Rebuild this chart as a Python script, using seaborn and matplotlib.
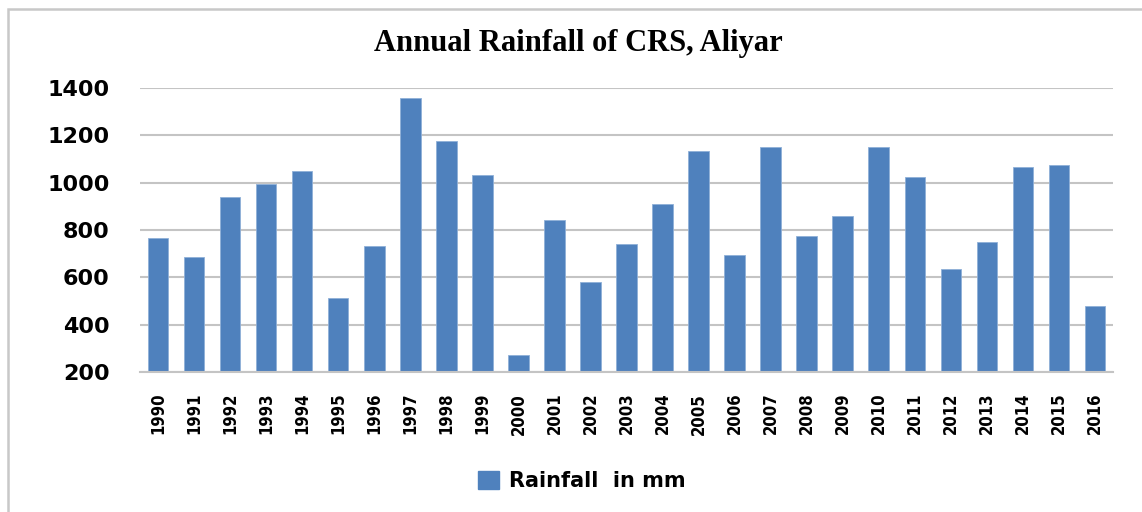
import matplotlib
matplotlib.use("Agg")
import matplotlib.pyplot as plt
from matplotlib.patches import Patch, Rectangle
import pandas as pd
import seaborn as sns

# Datos (mm por año)
years = [str(y) for y in range(1990, 2017)]
rainfall = [767, 688, 941, 995, 1048, 512, 734, 1356, 1178, 1034,
            273, 842, 582, 742, 911, 1135, 694, 1151, 773, 858,
            1151, 1025, 635, 749, 1065, 1073, 479]
y_ticks = [200, 400, 600, 800, 1000, 1200, 1400]

BAR_COLOR = "#4f81bd"
GRID_COLOR = "#c4c4c4"

sns.set_style("white")
plt.rcParams["font.family"] = ["DejaVu Sans"]
plt.rcParams["text.color"] = "black"
plt.rcParams["xtick.color"] = "black"
plt.rcParams["ytick.color"] = "black"

df = pd.DataFrame({"year": years, "rainfall": rainfall})

W, H = 1142, 512
fig = plt.figure(figsize=(W / 100, H / 100), dpi=100)
ax = fig.add_axes([140 / W, 1 - 372 / H, (1113 - 140) / W, (372 - 88) / H])

sns.barplot(data=df, x="year", y="rainfall", order=years, color=BAR_COLOR,
            width=0.57, saturation=1, edgecolor="#8fb0d8", linewidth=0.6, ax=ax)

ax.set_ylim(200, 1400)
ax.set_yticks(y_ticks)
ax.set_yticklabels([str(t) for t in y_ticks], fontsize=16, fontweight="bold")
ax.set_xlim(-0.5, len(years) - 0.5)
ax.set_xticks(range(len(years)))
ax.set_xticklabels(years, rotation=90, fontsize=12, fontweight="bold",
                   fontstretch="condensed")
ax.tick_params(axis="y", length=0, pad=22)
ax.tick_params(axis="x", length=0, pad=15)
ax.set_xlabel("")
ax.set_ylabel("")

ax.yaxis.grid(True, color=GRID_COLOR, linewidth=1.5)
ax.set_axisbelow(True)
for s in ["top", "left", "right"]:
    ax.spines[s].set_visible(False)
ax.spines["bottom"].set_color(GRID_COLOR)
ax.spines["bottom"].set_linewidth(1.5)

# Título
fig.text(578 / W, 1 - 44 / H, "Annual Rainfall of CRS, Aliyar",
         ha="center", va="center", fontsize=22, fontweight="bold",
         family=["Liberation Serif", "DejaVu Serif"])

# Leyenda
handle = Patch(facecolor=BAR_COLOR, edgecolor=BAR_COLOR)
fig.legend([handle], ["Rainfall  in mm"], loc="center",
           bbox_to_anchor=(582 / W, 1 - 481 / H), frameon=False,
           handlelength=1.0, handleheight=1.0, handletextpad=0.5,
           prop={"size": 15, "weight": "bold"})

# Marco exterior del gráfico
fig.patches.append(Rectangle((8 / W, -0.1), 1.2, 1 - 9 / H + 0.1,
                             transform=fig.transFigure, fill=False,
                             edgecolor="#c8c8c8", linewidth=1.8))

fig.savefig("out.png", dpi=100)
